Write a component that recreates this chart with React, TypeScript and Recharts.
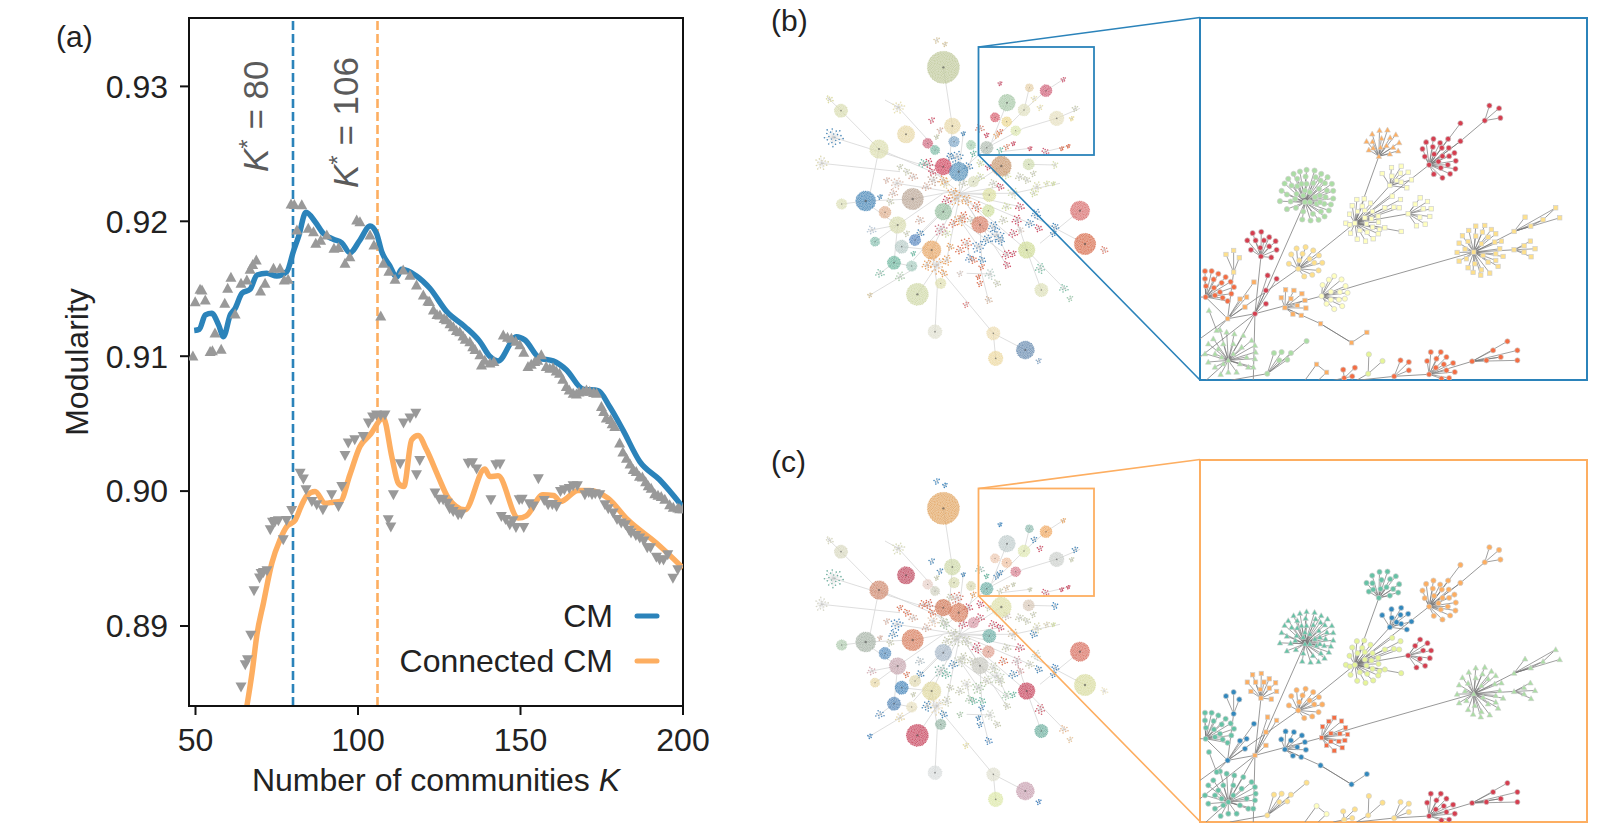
import { ComposedChart, Line, ReferenceArea, ReferenceLine, Scatter, ScatterChart, XAxis, YAxis } from "recharts"

const FONT = "'Liberation Sans', Arial, sans-serif"
const BLUE = "#2b83ba"
const ORANGE = "#fdae61"
const RED = "#d53e4f"
const CORAL = "#f46d43"
const GOLD = "#fee08b"
const PALE = "#ffffbf"
const LIME = "#e6f598"
const MINT = "#abdda4"
const TEAL = "#66c2a5"
const SKY = "#3288bd"

const xTicks = [50, 100, 150, 200]
const yTicks = [0.89, 0.9, 0.91, 0.92, 0.93]

// panel (a) smoothed curves, [K, modularity]
const cmLine = [
  [49.6, 0.9119], [51.2, 0.912], [53, 0.91306], [55, 0.91318], [57.1, 0.91232], [58.6, 0.91145], [60.7, 0.91306], [62.2, 0.91355],
  [64.3, 0.91467], [66.8, 0.91496], [68.9, 0.91602], [71.9, 0.91615], [75, 0.91595], [78.1, 0.91627], [80.1, 0.91775], [81.7, 0.91886],
  [84, 0.92067], [86.8, 0.91997], [89.3, 0.91911], [92.4, 0.91867], [95, 0.91841], [97.5, 0.91767], [100.6, 0.91861], [103.7, 0.91965],
  [105.7, 0.91911], [107.3, 0.91775], [109.8, 0.91669], [111.9, 0.91585], [113.4, 0.91644], [118, 0.91595], [122.1, 0.91504], [127.3, 0.9133],
  [132.9, 0.91219], [137.5, 0.91108], [140.6, 0.90997], [143.1, 0.90965], [148.8, 0.91145], [151.3, 0.91121], [155.9, 0.90985], [160, 0.90965],
  [164.1, 0.90899], [169.2, 0.90756], [173.9, 0.90745], [177.4, 0.90627], [181.5, 0.90454], [186.7, 0.90219], [192.8, 0.90084], [200, 0.8988],
]
const connectedLine = [
  [65.8, 0.88405], [67.4, 0.88652], [68.9, 0.88936], [70.9, 0.8917], [73.5, 0.89467], [76, 0.89639], [78.1, 0.89738], [80.6, 0.89782],
  [82.7, 0.89899], [84.2, 0.89965], [86.8, 0.89997], [89.9, 0.8991], [92.4, 0.89918], [94.5, 0.89923], [97.5, 0.90121], [100.6, 0.9033],
  [103.7, 0.90417], [107.8, 0.90541], [110.4, 0.90256], [112.4, 0.90059], [114.1, 0.90034], [116.5, 0.9038], [118.5, 0.90412], [121.1, 0.90306],
  [124.7, 0.90108], [127.8, 0.89948], [132.9, 0.89861], [139, 0.90163], [140.6, 0.90108], [143.1, 0.90113], [149.3, 0.898], [151.8, 0.89817],
  [156.9, 0.89973], [160.2, 0.89968], [162.3, 0.89923], [167.7, 0.90005], [171.3, 0.90005], [176.9, 0.89948], [183, 0.89787], [191.8, 0.89615], [200, 0.8943],
]
// raw points behind the curves
const cmRaw = [
  [49.2, 0.91002], [49.9, 0.91404], [51.4, 0.91496], [52, 0.9149], [53, 0.91417], [54.5, 0.91034], [55.2, 0.9104], [56, 0.91172], [57.9, 0.91052], [59, 0.91393],
  [59.9, 0.91504], [60.9, 0.91585], [62.2, 0.91313], [64, 0.91541], [65.8, 0.91565], [66.8, 0.91644], [67.6, 0.9168], [68.7, 0.91713], [70, 0.91484],
  [71.4, 0.91541], [74, 0.91652], [76, 0.91652], [77.3, 0.91565], [78.5, 0.9157], [79.4, 0.92128], [80.4, 0.92125], [82.7, 0.92123], [81.2, 0.91936], [84.7, 0.91948],
  [86.3, 0.91923], [87, 0.91837], [88.5, 0.9186], [90.4, 0.91899], [92.6, 0.918], [94, 0.91805], [96, 0.91689], [97.5, 0.91738], [99.6, 0.9201], [100.6, 0.91997],
  [103.7, 0.91899], [104.9, 0.91824], [107, 0.91298], [107.8, 0.91689], [109.5, 0.9163], [111.4, 0.9157], [113.9, 0.91639], [116, 0.916], [118, 0.91528], [120.1, 0.91454],
  [121.5, 0.9141], [122, 0.91405], [123.2, 0.91343], [124.3, 0.9131], [125.2, 0.91306], [126.5, 0.9128], [127.2, 0.9127], [128.3, 0.9124], [129.3, 0.91219], [130.3, 0.9119], [131.3, 0.91182], [132.3, 0.9115], [133, 0.91125],
  [134.4, 0.91108], [135.3, 0.9107], [136, 0.9105], [137.5, 0.9101], [138, 0.90935], [139, 0.9097], [140.6, 0.9095], [141.8, 0.9096], [144.7, 0.91158], [146, 0.9114], [147.2, 0.91133], [148.5, 0.9111], [149.8, 0.91084], [151, 0.9103],
  [152.3, 0.90923], [153.3, 0.9094], [154.4, 0.90961], [155.3, 0.9097], [156.4, 0.9101], [157.9, 0.90923], [159, 0.9091], [160, 0.90915], [161, 0.9089], [162, 0.90874], [163, 0.9083], [164.1, 0.90775], [165, 0.9075], [166.2, 0.90726], [167.2, 0.9072],
  [168, 0.90735], [169.3, 0.9074], [170.3, 0.9075], [171.3, 0.9074], [172.5, 0.9073], [173.4, 0.90726], [174.9, 0.90627], [175.6, 0.9059], [176.4, 0.90541], [177.7, 0.9053], [178.2, 0.905],
  [179, 0.90479], [180.5, 0.90356], [181.5, 0.9029], [182.6, 0.90244], [183.7, 0.902], [184.7, 0.9016], [185.6, 0.90145], [186.6, 0.9011], [187.5, 0.90105], [188.5, 0.9007], [189.3, 0.9004], [190.2, 0.90022], [191.3, 0.8998], [192.3, 0.8997], [193.3, 0.8996], [194.4, 0.8994], [195.9, 0.89898], [197, 0.8988], [198.4, 0.89874], [199, 0.8987], [200, 0.8987],
]
const connectedRaw = [
  [64, 0.88548], [65.3, 0.88713], [66, 0.8875], [67, 0.88931], [68, 0.89261], [69.7, 0.89356], [70.2, 0.8939], [70.9, 0.89397], [72, 0.8941], [73, 0.89713], [73.7, 0.8977], [74.5, 0.89775], [75.5, 0.8978],
  [77, 0.89639], [78, 0.89782], [79.6, 0.89856], [82.2, 0.90133], [83.2, 0.90089], [84, 0.9001], [85.8, 0.89923], [87.3, 0.89899],
  [89.2, 0.89861], [91.9, 0.89973], [94, 0.89886], [95, 0.90034], [96, 0.90264], [97, 0.90356], [99, 0.9038], [101.6, 0.90404],
  [103.2, 0.90504], [104.5, 0.9055], [105.7, 0.90565], [107, 0.9056], [108.3, 0.90565], [109.3, 0.89787], [110.1, 0.89733], [110.9, 0.89973], [113, 0.90203], [114, 0.90504],
  [116, 0.90541], [117.8, 0.90578], [118, 0.90121], [119, 0.90227], [123.7, 0.89985], [125, 0.8994], [126.2, 0.89936], [127.5, 0.8991], [128.2, 0.8987], [129.3, 0.89849],
  [130.8, 0.89824], [131.8, 0.8983], [133.9, 0.90207], [135.2, 0.9021], [136.5, 0.90163], [140.9, 0.89936], [142.4, 0.90195], [143.7, 0.902], [144.1, 0.89812], [145.4, 0.8979], [146.7, 0.8975], [147.7, 0.8978], [148.6, 0.8973], [151, 0.8973],
  [149.6, 0.89936], [150.5, 0.8994], [152.7, 0.89906], [154, 0.8989], [155.5, 0.90092], [157.3, 0.8993], [158.5, 0.89899], [159.8, 0.899], [161.1, 0.89886], [162.3, 0.89997], [163.5, 0.9001], [165, 0.9002], [166.2, 0.9004], [167.5, 0.9004], [169.8, 0.89973],
  [171, 0.8999], [172, 0.89975], [173, 0.8998], [174.4, 0.89973], [176, 0.89899], [177, 0.8987], [178.5, 0.89837], [179.7, 0.8979], [181, 0.89763], [182.3, 0.8975], [183.4, 0.8971], [184, 0.8969], [185.5, 0.8967], [186.7, 0.89652], [188, 0.8963], [189, 0.8958], [190, 0.8958], [191.8, 0.8951], [192.8, 0.89491], [194, 0.8949], [195.3, 0.89528], [196.9, 0.89354], [198.4, 0.89417],
]

// inset layout, same for (b) and (c); each group is a hub and the nodes hanging off it
const insetHubs = [
  [345, 575], [567, 437], [718, 463], [600, 525], [495, 638], [655, 610], [852, 725], [973, 718], [973, 663], [213, 738],
  [325, 775], [395, 857], [285, 892], [47, 860], [115, 1050], [232, 1090], [718, 1092], [613, 1098], [885, 330], [131, 785],
  [195, 910], [113, 925], [485, 997], [847, 1053], [535, 1090], [463, 1103], [80, 960], [380, 1062],
]
const insetLeaves = [
  [[275, 541], [270, 572], [291, 596], [318, 592], [337, 627], [362, 630], [386, 628], [404, 618], [417, 600], [430, 564], [430, 541], [426, 520], [413, 500], [394, 490], [374, 480], [350, 478], [330, 483], [311, 490], [295, 505], [284, 519], [291, 552], [302, 573], [316, 565], [340, 603], [369, 610], [393, 603], [403, 580], [423, 582], [407, 560], [411, 540], [405, 518], [392, 510], [377, 500], [347, 498], [322, 505], [305, 525], [322, 527], [335, 520], [350, 520], [370, 518], [387, 535], [390, 555], [380, 580], [340, 555], [320, 550], [360, 545], [360, 575], [375, 560], [345, 540], [390, 575]],
  [[547, 370], [569, 359], [593, 358], [618, 372], [628, 396], [625, 421], [600, 430], [530, 392], [537, 418], [575, 383], [548, 393], [601, 381], [610, 410], [572, 410], [590, 405], [550, 412]],
  [[709, 395], [731, 385], [751, 397], [775, 385], [698, 415], [729, 409], [756, 412], [777, 412], [794, 427], [705, 438], [733, 431], [758, 437], [778, 437], [798, 451], [746, 453], [774, 463], [797, 475], [753, 472], [781, 490], [732, 491], [758, 502], [812, 338], [812, 392]],
  [[577, 489], [605, 471], [634, 467], [655, 485], [665, 508], [651, 532], [632, 488], [606, 497], [634, 515], [620, 510]],
  [[501, 567], [523, 565], [542, 578], [487, 586], [517, 587], [503, 603], [479, 611], [525, 600], [548, 603], [565, 617], [566, 635], [525, 622], [545, 625], [468, 638], [480, 643], [530, 640], [548, 650], [569, 657], [482, 668], [510, 660], [532, 665], [565, 670], [502, 686], [527, 692], [550, 685], [585, 652], [634, 663], [628, 592], [632, 567], [607, 557], [612, 590], [585, 592]],
  [[676, 581], [691, 562], [713, 573], [700, 595], [724, 595], [720, 618], [690, 620], [680, 646], [706, 641]],
  [[858, 647], [885, 645], [905, 657], [837, 660], [878, 665], [918, 670], [818, 676], [858, 677], [895, 680], [935, 692], [808, 698], [835, 693], [875, 700], [915, 695], [802, 726], [826, 716], [930, 715], [830, 745], [880, 735], [918, 730], [940, 738], [808, 752], [855, 760], [895, 755], [925, 768], [835, 772], [875, 778], [850, 786], [873, 794], [900, 788], [918, 750]],
  [[1022, 692], [1036, 715], [1024, 739], [1003, 706], [1003, 725]],
  [[1006, 620], [1023, 647], [1060, 628], [1098, 592], [1110, 622]],
  [[188, 668], [214, 664], [238, 680], [172, 690], [197, 690], [222, 690], [257, 692], [238, 708], [183, 718], [211, 712], [260, 718], [244, 741]],
  [[320, 714], [347, 710], [370, 720], [304, 732], [338, 730], [359, 745], [387, 735], [297, 760], [328, 750], [373, 757], [397, 757], [386, 780], [367, 793], [343, 798]],
  [[398, 824], [417, 808], [433, 797], [455, 807], [467, 827], [423, 844], [450, 845], [473, 847], [465, 865], [447, 868], [423, 868], [457, 887], [433, 896], [410, 880]],
  [[287, 838], [312, 840], [274, 862], [303, 865], [336, 850], [345, 870], [322, 885], [348, 893], [334, 915], [309, 911]],
  [[45, 782], [65, 782], [85, 790], [45, 805], [71, 807], [107, 800], [48, 827], [95, 817], [122, 814], [72, 832], [132, 830], [90, 845], [124, 850], [98, 862], [113, 872], [75, 855]],
  [[110, 965], [133, 970], [90, 958], [160, 975], [185, 990], [70, 985], [55, 1000], [195, 1005], [45, 1030], [197, 1025], [195, 1045], [55, 1055], [75, 1070], [175, 1070], [92, 1092], [115, 1085], [140, 1085], [190, 1070], [100, 1000], [130, 1000], [155, 1010], [85, 1015], [75, 1030], [170, 1040], [150, 1060], [130, 1030], [95, 1040], [100, 1060]],
  [[350, 992], [303, 1028], [275, 1025], [252, 1028], [292, 1048], [268, 1050]],
  [[723, 1025], [753, 1025], [712, 1052], [740, 1045], [770, 1040], [762, 1062], [790, 1058], [738, 1072], [770, 1080], [795, 1085], [755, 1105], [778, 1103]],
  [[632, 1050], [657, 1055], [657, 1080]],
  [[899, 285], [928, 293], [932, 322]],
  [[108, 732], [131, 720], [148, 742]],
  [[228, 880], [228, 840], [233, 795], [260, 805]],
  [[150, 866], [170, 860], [165, 890], [192, 815]],
  [[531, 966], [392, 940]],
  [[890, 1050], [910, 1020], [953, 993], [933, 1040], [983, 1020], [983, 1050]],
  [[578, 1052], [537, 1032]],
  [[495, 1072], [460, 1078], [487, 1098]],
  [[57, 900]],
  [[410, 1086]],
]
const insetLinks = [
  [30, 985, 113, 925], [113, 925, 325, 775], [325, 775, 495, 638], [495, 638, 718, 463], [718, 463, 812, 392], [812, 392, 885, 330],
  [495, 638, 567, 437], [495, 638, 655, 610], [600, 525, 510, 625], [30, 1040, 195, 910], [195, 910, 395, 857], [395, 857, 525, 818], [525, 818, 852, 725],
  [345, 575, 228, 840], [228, 840, 195, 910], [213, 738, 195, 910], [195, 910, 190, 1110], [285, 892, 392, 940], [392, 940, 485, 997],
  [47, 860, 113, 925], [113, 925, 131, 785], [113, 925, 195, 910], [113, 925, 80, 960], [852, 725, 973, 663], [852, 725, 973, 718], [973, 663, 1023, 647],
  [1023, 647, 1060, 628], [1060, 628, 1098, 592], [120, 1110, 232, 1090], [345, 1110, 380, 1062], [613, 1098, 718, 1092], [718, 1092, 847, 1053], [847, 1053, 933, 1040],
  [115, 1050, 195, 910], [30, 860, 47, 860], [430, 1110, 463, 1103], [48, 1110, 115, 1050], [385, 1110, 410, 1086], [535, 1090, 500, 1110], [500, 1110, 613, 1098],
]
const insetColorsB = [MINT, ORANGE, RED, PALE, PALE, PALE, GOLD, GOLD, GOLD, RED, GOLD, PALE, ORANGE, CORAL, MINT, MINT, CORAL, CORAL, RED, GOLD, RED, ORANGE, ORANGE, CORAL, LIME, CORAL, MINT, ORANGE]
const insetColorsC = [TEAL, TEAL, ORANGE, SKY, LIME, RED, MINT, MINT, MINT, ORANGE, ORANGE, CORAL, SKY, TEAL, TEAL, GOLD, RED, GOLD, ORANGE, SKY, ORANGE, SKY, SKY, RED, GOLD, GOLD, TEAL, PALE]
const insetShapesB = ["o", "t", "o", "s", "s", "s", "s", "s", "s", "o", "o", "o", "s", "o", "t", "o", "o", "o", "o", "s", "o", "s", "s", "o", "o", "o", "t", "s"]
const insetShapesC = ["t", "o", "o", "o", "o", "o", "t", "t", "t", "s", "o", "s", "o", "o", "o", "o", "o", "o", "o", "o", "s", "o", "o", "o", "o", "o", "o", "o"]

// overview graph: x, y, radius, colour in (b), colour in (c)
const denseHubs = [
  [430, 142, 48, "#bfc99a", "#e2a562"], [123, 272, 20, "#d8dcb0", "#d8d8c0"], [237, 387, 28, "#dcdfb0", "#d08a70"], [318, 343, 26, "#e8d8a8", "#c04a60"],
  [457, 318, 24, "#e8d8a8", "#cdd8a8"], [621, 248, 25, "#a8c8a8", "#c0cccc"], [770, 295, 22, "#e6e0c0", "#ccd0cc"], [738, 212, 18, "#d06078", "#f0a860"],
  [672, 270, 18, "#e0e0c0", "#dfe8b0"], [620, 305, 15, "#ecd890", "#eec0a0"], [647, 332, 15, "#dde8b0", "#d88090"], [560, 383, 19, "#b0bcb0", "#70b0a8"],
  [604, 438, 30, "#c89870", "#dde0a8"], [686, 433, 17, "#d0dcb0", "#d8c8b8"], [430, 440, 25, "#d04860", "#d07858"], [476, 455, 28, "#5a94bc", "#d88060"],
  [197, 543, 30, "#4a88b8", "#a8b4a8"], [125, 552, 16, "#dde0b8", "#b0ccb0"], [255, 577, 18, "#e0b090", "#5a90c0"], [338, 537, 32, "#bca898", "#d88060"],
  [293, 615, 25, "#d8dcb0", "#c8a8b0"], [430, 575, 25, "#98c0a0", "#a8b8c8"], [568, 525, 20, "#dde0a0", "#70b0a8"], [540, 614, 25, "#d88068", "#c8c8c0"],
  [565, 572, 18, "#d0e0a0", "#e0a090"], [305, 680, 20, "#b8ccc8", "#4a88bc"], [395, 690, 28, "#e8a868", "#e0d8a0"], [282, 728, 20, "#70b8a0", "#5888b8"],
  [335, 738, 16, "#a8ccc0", "#e8e0c0"], [352, 823, 33, "#cfd8a8", "#c84860"], [422, 790, 16, "#e0e0b0", "#98b8a8"], [680, 690, 25, "#d0dc98", "#c84860"],
  [840, 572, 29, "#d87070", "#d87060"], [855, 672, 32, "#d87050", "#d8dca0"], [724, 810, 20, "#dde0b8", "#70b0a0"], [405, 935, 21, "#e0e0d0", "#d8dcdc"],
  [580, 940, 20, "#ecdcb0", "#e0e0d0"], [587, 1015, 22, "#ecd8a0", "#dce8a8"], [676, 990, 27, "#6a8cb0", "#c8a0b0"], [383, 370, 15, "#d06a80", "#e8d0c8"],
  [405, 390, 14, "#80bca8", "#d0d0c0"], [462, 365, 16, "#80a8c8", "#d8dcb0"], [513, 375, 14, "#a8d0b0", "#d8d8b0"], [688, 203, 12, "#e6cfa8", "#90bcb0"],
  [585, 292, 14, "#d86070", "#ecc8b0"], [345, 660, 17, "#5a88c0", "#e0d8b0"], [520, 485, 16, "#dce0c0", "#d89aa8"], [225, 665, 14, "#88c0b0", "#e8d8a8"],
]
const T = "#66b8a0"
const R = "#d05068"
const B = "#4a88b8"
const O = "#e8a060"
const C = "#e07050"
const G = "#c8ccb0"
const L = "#d0dca0"
const P = "#d8b0a0"
const sparseTufts = [
  [422, 628, 20, "#d07888", "#88b4a8"], [912, 690, 12, "#e08070", "#f0e8c8"], [708, 582, 16, "#5a90c0", "#c8d8c8"], [215, 630, 14, "#b8c8d8", "#d8b0b8"],
  [570, 762, 17, "#b8d0c8", "#d0d8c8"], [620, 705, 15, "#d05068", "#a8d0b0"], [792, 805, 14, "#80c0a8", "#e8b890"], [810, 835, 10, "#a0ccb0", "#e8c8a0"],
  [498, 853, 10, "#e08080", "#e8e0a0"], [716, 1022, 9, "#88a8c8", "#4080c0"], [765, 435, 11, "#d8e0b0", "#4088c0"], [100, 352, 30, "#4a88b8", "#70b0a0"],
  [65, 430, 22, "#dcd8b0", "#d8d8c8"], [295, 262, 20, "#e8e0b0", "#d8dcb8"], [88, 238, 12, "#dcdca0", "#d8d8c0"], [410, 60, 10, "#d8c8a0", "#4088c0"],
  [435, 72, 8, "#d8c8a0", "#4088c0"], [540, 325, 14, "#d88070", "#90bcb0"], [435, 490, 16, "#e8d8a0", "#a8c8a8"], [470, 535, 25, "#e8a868", "#c0c8b0"],
  [410, 735, 28, "#e8a060", "#e8d8b0"], [590, 645, 25, "#5a90c0", "#c8d8c0"], [535, 680, 20, "#5a90c0", "#a8c8a0"], [500, 670, 18, "#e07050", "#d8d8c0"],
  [510, 715, 14, "#5a90c0", "#a8c8a8"], [640, 520, 18, "#d0dcb0", "#d0c0a8"], [710, 500, 16, "#dde0b0", "#d8d8b0"], [765, 620, 12, "#4a88b8", "#4a88c0"],
  [650, 600, 16, "#d04860", "#d0a0a8"], [470, 410, 20, "#4a88b8", "#d87060"], [385, 430, 16, "#d05068", "#d87060"], [290, 490, 20, "#e0c0b0", "#4a88c0"],
  [240, 760, 14, "#80c0a8", "#5a90c0"], [565, 840, 12, "#d8b8a0", "#4a88c0"], [210, 825, 8, "#d8c8a0", "#4a88c0"], [300, 770, 15, "#b0d0b0", "#e8d8a8"],
  [720, 745, 16, "#80c0a8", "#d06070"], [400, 480, 18, "#c8a898", "#e8c8b0"], [360, 600, 14, "#d8b0a0", "#b0c0c8"], [480, 600, 18, "#e8a060", "#c8d0b8"],
  [620, 465, 14, "#d8e0a8", "#d0c0b8"], [740, 490, 10, "#d8e0a8", "#d8d0b0"], [600, 190, 7, "#d06078", "#4088c0"], [790, 178, 8, "#d06078", "#e8a868"],
  [620, 380, 10, "#e08060", "#d8c0a0"], [735, 395, 12, "#d06078", "#d06078"], [660, 630, 12, "#d8c8c0", "#d8a0a0"], [480, 760, 10, "#d8c8c0", "#a8c8a8"],
  [370, 430, 14, T, C], [395, 455, 12, R, C], [450, 410, 12, B, G], [505, 440, 14, B, R], [540, 470, 14, L, R], [490, 490, 14, G, R], [430, 480, 14, O, G],
  [460, 520, 18, O, G], [500, 540, 16, O, G], [440, 540, 14, R, G], [530, 560, 16, C, R], [490, 590, 16, C, G], [515, 600, 14, G, G], [460, 610, 14, C, B],
  [610, 600, 14, G, C], [620, 560, 14, L, G], [660, 560, 14, R, R], [640, 640, 14, R, B], [690, 610, 14, B, G], [715, 625, 12, R, B], [760, 640, 10, B, B],
  [580, 620, 16, B, G], [600, 660, 16, B, G], [560, 660, 14, B, G], [520, 720, 12, C, T], [480, 690, 14, C, G], [545, 720, 12, B, T], [440, 720, 16, O, G],
  [380, 735, 16, O, B], [430, 760, 12, O, B], [280, 520, 14, P, B], [260, 480, 10, P, P], [340, 470, 14, P, P], [380, 500, 14, P, P], [240, 530, 8, B, P],
  [270, 545, 12, G, G], [360, 640, 12, B, B], [440, 640, 14, L, T], [320, 455, 12, G, C], [300, 440, 10, G, C], [660, 470, 14, G, G], [700, 520, 12, L, B],
  [680, 480, 12, G, G], [580, 490, 14, G, R], [600, 500, 12, R, R], [540, 430, 12, L, R], [520, 400, 10, T, O], [565, 440, 10, R, G], [590, 790, 12, G, G],
  [540, 790, 10, C, B], [620, 735, 12, R, G], [640, 700, 10, R, T], [395, 300, 10, R, B], [420, 330, 10, P, B], [410, 350, 8, G, G], [490, 340, 7, B, B],
  [545, 740, 10, C, B], [535, 770, 8, C, B], [320, 640, 10, G, C], [340, 700, 8, T, G], [450, 680, 12, O, G], [760, 490, 7, L, L], [700, 460, 10, G, G],
  [825, 265, 10, G, B], [815, 295, 8, "#e8d890", G], [720, 262, 10, "#e8e0b0", R], [702, 235, 10, "#e8e0b0", B], [600, 335, 10, C, B], [640, 370, 7, R, G],
  [590, 345, 10, O, B], [600, 390, 10, T, G], [690, 385, 7, R, G], [785, 385, 7, C, R], [805, 378, 6, C, R], [560, 345, 8, R, T],
]
const overviewLinks = [
  [430, 142, 457, 318], [457, 318, 450, 410], [123, 272, 237, 387], [237, 387, 430, 470], [80, 230, 123, 272], [100, 352, 350, 430], [65, 430, 300, 455], [237, 387, 210, 520],
  [197, 543, 125, 552], [197, 543, 338, 537], [338, 537, 480, 510], [293, 615, 430, 520], [352, 823, 422, 720], [405, 935, 412, 800], [412, 800, 395, 690], [430, 760, 580, 940],
  [580, 940, 676, 990], [580, 940, 587, 1015], [855, 672, 700, 590], [840, 572, 720, 670], [680, 690, 724, 810], [770, 295, 670, 325], [560, 383, 430, 500], [672, 270, 560, 383],
  [738, 212, 672, 270], [604, 438, 480, 520], [686, 433, 765, 435], [680, 690, 792, 805], [210, 825, 352, 740], [480, 520, 395, 690], [480, 520, 540, 614], [480, 520, 680, 690],
  [480, 520, 568, 525], [480, 520, 430, 575], [480, 520, 476, 455], [480, 520, 640, 520], [640, 520, 780, 490], [293, 615, 282, 728], [293, 615, 215, 560], [395, 690, 305, 680],
  [500, 760, 570, 762], [535, 680, 480, 600], [565, 840, 540, 740], [295, 262, 420, 400], [255, 240, 295, 262], [422, 628, 340, 720], [480, 600, 620, 705],
  [480, 520, 370, 430], [480, 520, 520, 400], [480, 520, 600, 500], [480, 520, 440, 720], [480, 520, 580, 620], [480, 520, 620, 735], [480, 520, 290, 490], [480, 520, 360, 640],
  [480, 520, 660, 560], [480, 520, 690, 610], [540, 614, 600, 660], [540, 614, 545, 720], [430, 440, 350, 430], [476, 455, 490, 340], [500, 670, 510, 715], [395, 690, 380, 735],
  [345, 660, 430, 575], [225, 665, 293, 615], [215, 630, 293, 615], [282, 728, 240, 760], [282, 728, 335, 738], [620, 705, 600, 660], [680, 690, 650, 600],
  [560, 383, 670, 325], [770, 295, 840, 265], [688, 203, 672, 270], [575, 365, 621, 248], [738, 212, 790, 178], [605, 395, 690, 385], [735, 395, 805, 378],
]

const toPoints = (pairs: number[][]) => pairs.map(([k, q]) => ({ k, q }))

const UpTriangle = ({ cx, cy }: any) => <path d={`M${cx} ${cy - 5.5}L${cx + 5.5} ${cy + 4.5}L${cx - 5.5} ${cy + 4.5}Z`} fill="#999999" />
const DownTriangle = ({ cx, cy }: any) => <path d={`M${cx} ${cy + 5.5}L${cx + 5.5} ${cy - 4.5}L${cx - 5.5} ${cy - 4.5}Z`} fill="#999999" />

function ModularityChart() {
  return (
    <div style={{ position: "absolute", left: 0, top: 0 }}>
      <ComposedChart width={730} height={820} margin={{ top: 18, right: 47, bottom: 54, left: 109 }}>
        <XAxis
          type="number"
          dataKey="k"
          domain={[48, 200]}
          ticks={xTicks}
          allowDataOverflow
          height={60}
          axisLine={{ stroke: "#111", strokeWidth: 2 }}
          tickLine={{ stroke: "#111", strokeWidth: 2 }}
          tickSize={9}
          tickMargin={13}
          tick={{ fontSize: 32, fontFamily: FONT, fill: "#222" }}
        />
        <YAxis
          type="number"
          dataKey="q"
          domain={[0.88407, 0.93507]}
          ticks={yTicks}
          tickFormatter={(v) => v.toFixed(2)}
          allowDataOverflow
          width={80}
          axisLine={{ stroke: "#111", strokeWidth: 2 }}
          tickLine={{ stroke: "#111", strokeWidth: 2 }}
          tickSize={9}
          tickMargin={12}
          tick={{ fontSize: 32, fontFamily: FONT, fill: "#222" }}
        />
        <ReferenceArea x1={48} x2={200} y1={0.88407} y2={0.93507} fill="none" stroke="#111" strokeWidth={2} ifOverflow="visible" />
        <ReferenceLine x={80} stroke={BLUE} strokeWidth={2.6} strokeDasharray="9 4" />
        <ReferenceLine x={106} stroke={ORANGE} strokeWidth={2.6} strokeDasharray="9 4" />
        <Scatter data={toPoints(cmRaw)} dataKey="q" shape={UpTriangle} isAnimationActive={false} />
        <Scatter data={toPoints(connectedRaw)} dataKey="q" shape={DownTriangle} isAnimationActive={false} />
        <Line data={toPoints(cmLine)} dataKey="q" type="monotone" stroke={BLUE} strokeWidth={5.5} dot={false} isAnimationActive={false} />
        <Line data={toPoints(connectedLine)} dataKey="q" type="monotone" stroke={ORANGE} strokeWidth={5.5} dot={false} isAnimationActive={false} />
      </ComposedChart>
    </div>
  )
}

const NodeMark = ({ cx, cy, fill, kind }: any) => {
  const halo = "#cfcfcf"
  if (kind === "s") return <rect x={cx - 2.2} y={cy - 2.2} width={4.4} height={4.4} fill={fill} stroke={halo} strokeWidth={0.7} />
  if (kind === "t") return <path d={`M${cx} ${cy - 2.8}L${cx + 2.8} ${cy + 2.2}L${cx - 2.8} ${cy + 2.2}Z`} fill={fill} stroke={halo} strokeWidth={0.6} />
  return <circle cx={cx} cy={cy} r={2.6} fill={fill} stroke={halo} strokeWidth={0.7} />
}

function InsetGraph({ left, top, frame, yStart, colors, shapes }: any) {
  const width = 387
  const height = 362
  return (
    <div style={{ position: "absolute", left, top, width, height, overflow: "hidden", boxSizing: "border-box", outline: `2px solid ${frame}`, outlineOffset: -1 }}>
      <ScatterChart width={width} height={height} margin={{ top: 0, right: 0, bottom: 0, left: 0 }}>
        <XAxis type="number" dataKey="x" domain={[30, 1192]} hide allowDataOverflow />
        <YAxis type="number" dataKey="y" domain={[yStart, yStart + 1087]} reversed hide allowDataOverflow />
        {insetLinks.map(([x1, y1, x2, y2], i) => (
          <ReferenceLine key={`l${i}`} segment={[{ x: x1, y: y1 }, { x: x2, y: y2 }]} stroke="#8c8c8c" strokeWidth={0.9} ifOverflow="visible" />
        ))}
        {insetHubs.flatMap(([hx, hy], g) =>
          insetLeaves[g].map(([x, y], i) => (
            <ReferenceLine key={`s${g}-${i}`} segment={[{ x: hx, y: hy }, { x, y }]} stroke="#777" strokeWidth={0.7} ifOverflow="visible" />
          )),
        )}
        {insetHubs.map(([hx, hy], g) => (
          <Scatter
            key={g}
            data={[{ x: hx, y: hy }, ...insetLeaves[g].map(([x, y]) => ({ x, y }))]}
            shape={(p: any) => <NodeMark cx={p.cx} cy={p.cy} fill={colors[g]} kind={shapes[g]} />}
            isAnimationActive={false}
          />
        ))}
      </ScatterChart>
    </div>
  )
}

// overview marks: a filled dandelion, or a loose tuft of dots
const DenseMark = ({ cx, cy, fill, r }: any) => {
  const rings = Math.round(r * r * 1.4)
  return (
    <g>
      <circle cx={cx} cy={cy} r={r} fill={fill} fillOpacity={0.55} stroke={fill} strokeOpacity={0.4} strokeDasharray="1 1" />
      {Array.from({ length: rings }, (_, i) => {
        const a = i * 2.39996
        const d = r * Math.sqrt((i + 0.5) / rings)
        return <circle key={i} cx={cx + d * Math.cos(a)} cy={cy + d * Math.sin(a)} r={0.5} fill={fill} />
      })}
      <circle cx={cx} cy={cy} r={Math.min(1.2, r * 0.12)} fill="#444" fillOpacity={0.55} />
    </g>
  )
}
const TuftMark = ({ cx, cy, fill, r }: any) => {
  const dots = Math.max(7, Math.round(r * 2.2))
  return (
    <g>
      {Array.from({ length: dots }, (_, i) => {
        const a = i * 2.39996
        const d = r * Math.sqrt((i + 0.5) / dots)
        return (
          <g key={i}>
            <line x1={cx} y1={cy} x2={cx + d * Math.cos(a)} y2={cy + d * Math.sin(a)} stroke="#c4c4c4" strokeWidth={0.35} />
            <circle cx={cx + d * Math.cos(a)} cy={cy + d * Math.sin(a)} r={0.8} fill={fill} />
          </g>
        )
      })}
    </g>
  )
}

function OverviewGraph({ top, colorIndex }: any) {
  const asNodes = (rows: any[]) => rows.map((row) => ({ x: row[0], y: row[1], r: row[2] / 3, fill: row[colorIndex] }))
  return (
    <div style={{ position: "absolute", left: 800, top }}>
      <ScatterChart width={320} height={360} margin={{ top: 0, right: 0, bottom: 0, left: 0 }}>
        <XAxis type="number" dataKey="x" domain={[0, 960]} hide allowDataOverflow />
        <YAxis type="number" dataKey="y" domain={[0, 1080]} reversed hide allowDataOverflow />
        {overviewLinks.map(([x1, y1, x2, y2], i) => (
          <ReferenceLine key={i} segment={[{ x: x1, y: y1 }, { x: x2, y: y2 }]} stroke="#d6d6d6" strokeWidth={0.8} ifOverflow="visible" />
        ))}
        <Scatter data={asNodes(sparseTufts)} shape={(p: any) => <TuftMark cx={p.cx} cy={p.cy} fill={p.payload.fill} r={p.payload.r} />} isAnimationActive={false} />
        <Scatter data={asNodes(denseHubs)} shape={(p: any) => <DenseMark cx={p.cx} cy={p.cy} fill={p.payload.fill} r={p.payload.r} />} isAnimationActive={false} />
      </ScatterChart>
    </div>
  )
}

function Annotations() {
  const dark = "#222"
  const grey = "#5a5a5a"
  return (
    <svg width={1600} height={832} style={{ position: "absolute", left: 0, top: 0, pointerEvents: "none", fontFamily: FONT }}>
      <text x={56} y={47} fontSize={30} fill={dark}>(a)</text>
      <text x={771} y={31} fontSize={30} fill={dark}>(b)</text>
      <text x={771} y={472} fontSize={30} fill={dark}>(c)</text>
      <text transform="translate(88,362) rotate(-90)" textAnchor="middle" fontSize={32} fill={dark}>Modularity</text>
      <text x={436} y={791} textAnchor="middle" fontSize={32} fill={dark}>
        Number of communities <tspan fontStyle="italic">K</tspan>
      </text>
      <text transform="translate(268,172) rotate(-90)" fontSize={35} fill={grey}>
        <tspan fontStyle="italic">K</tspan>
        <tspan dy={-12} fontSize={24}>*</tspan>
        <tspan dy={12}> = 80</tspan>
      </text>
      <text transform="translate(358,188) rotate(-90)" fontSize={35} fill={grey}>
        <tspan fontStyle="italic">K</tspan>
        <tspan dy={-12} fontSize={24}>*</tspan>
        <tspan dy={12}> = 106</tspan>
      </text>
      <text x={613} y={627} textAnchor="end" fontSize={32} fill={dark}>CM</text>
      <text x={613} y={672} textAnchor="end" fontSize={32} fill={dark}>Connected CM</text>
      <line x1={637} x2={657} y1={616} y2={616} stroke={BLUE} strokeWidth={5} strokeLinecap="round" />
      <line x1={637} x2={657} y1={661} y2={661} stroke={ORANGE} strokeWidth={5} strokeLinecap="round" />

      <rect x={978.5} y={47} width={115.5} height={108} fill="none" stroke={BLUE} strokeWidth={1.8} />
      <path d="M978.5 47L1200 17.5M978.5 155L1200 380" fill="none" stroke={BLUE} strokeWidth={1.6} />
      <rect x={978.5} y={488.5} width={115.5} height={107.5} fill="none" stroke={ORANGE} strokeWidth={1.8} />
      <path d="M978.5 488.5L1200 459.5M978.5 596L1200 821.5" fill="none" stroke={ORANGE} strokeWidth={1.6} />
    </svg>
  )
}

export default function App() {
  return (
    <div style={{ position: "absolute", left: 0, top: 0, width: 1600, height: 832, background: "#fff", overflow: "hidden" }}>
      <ModularityChart />
      <OverviewGraph top={20} colorIndex={3} />
      <OverviewGraph top={461} colorIndex={4} />
      <InsetGraph left={1200} top={18} frame={BLUE} yStart={22} colors={insetColorsB} shapes={insetShapesB} />
      <InsetGraph left={1200} top={460} frame={ORANGE} yStart={23} colors={insetColorsC} shapes={insetShapesC} />
      <Annotations />
    </div>
  )
}
